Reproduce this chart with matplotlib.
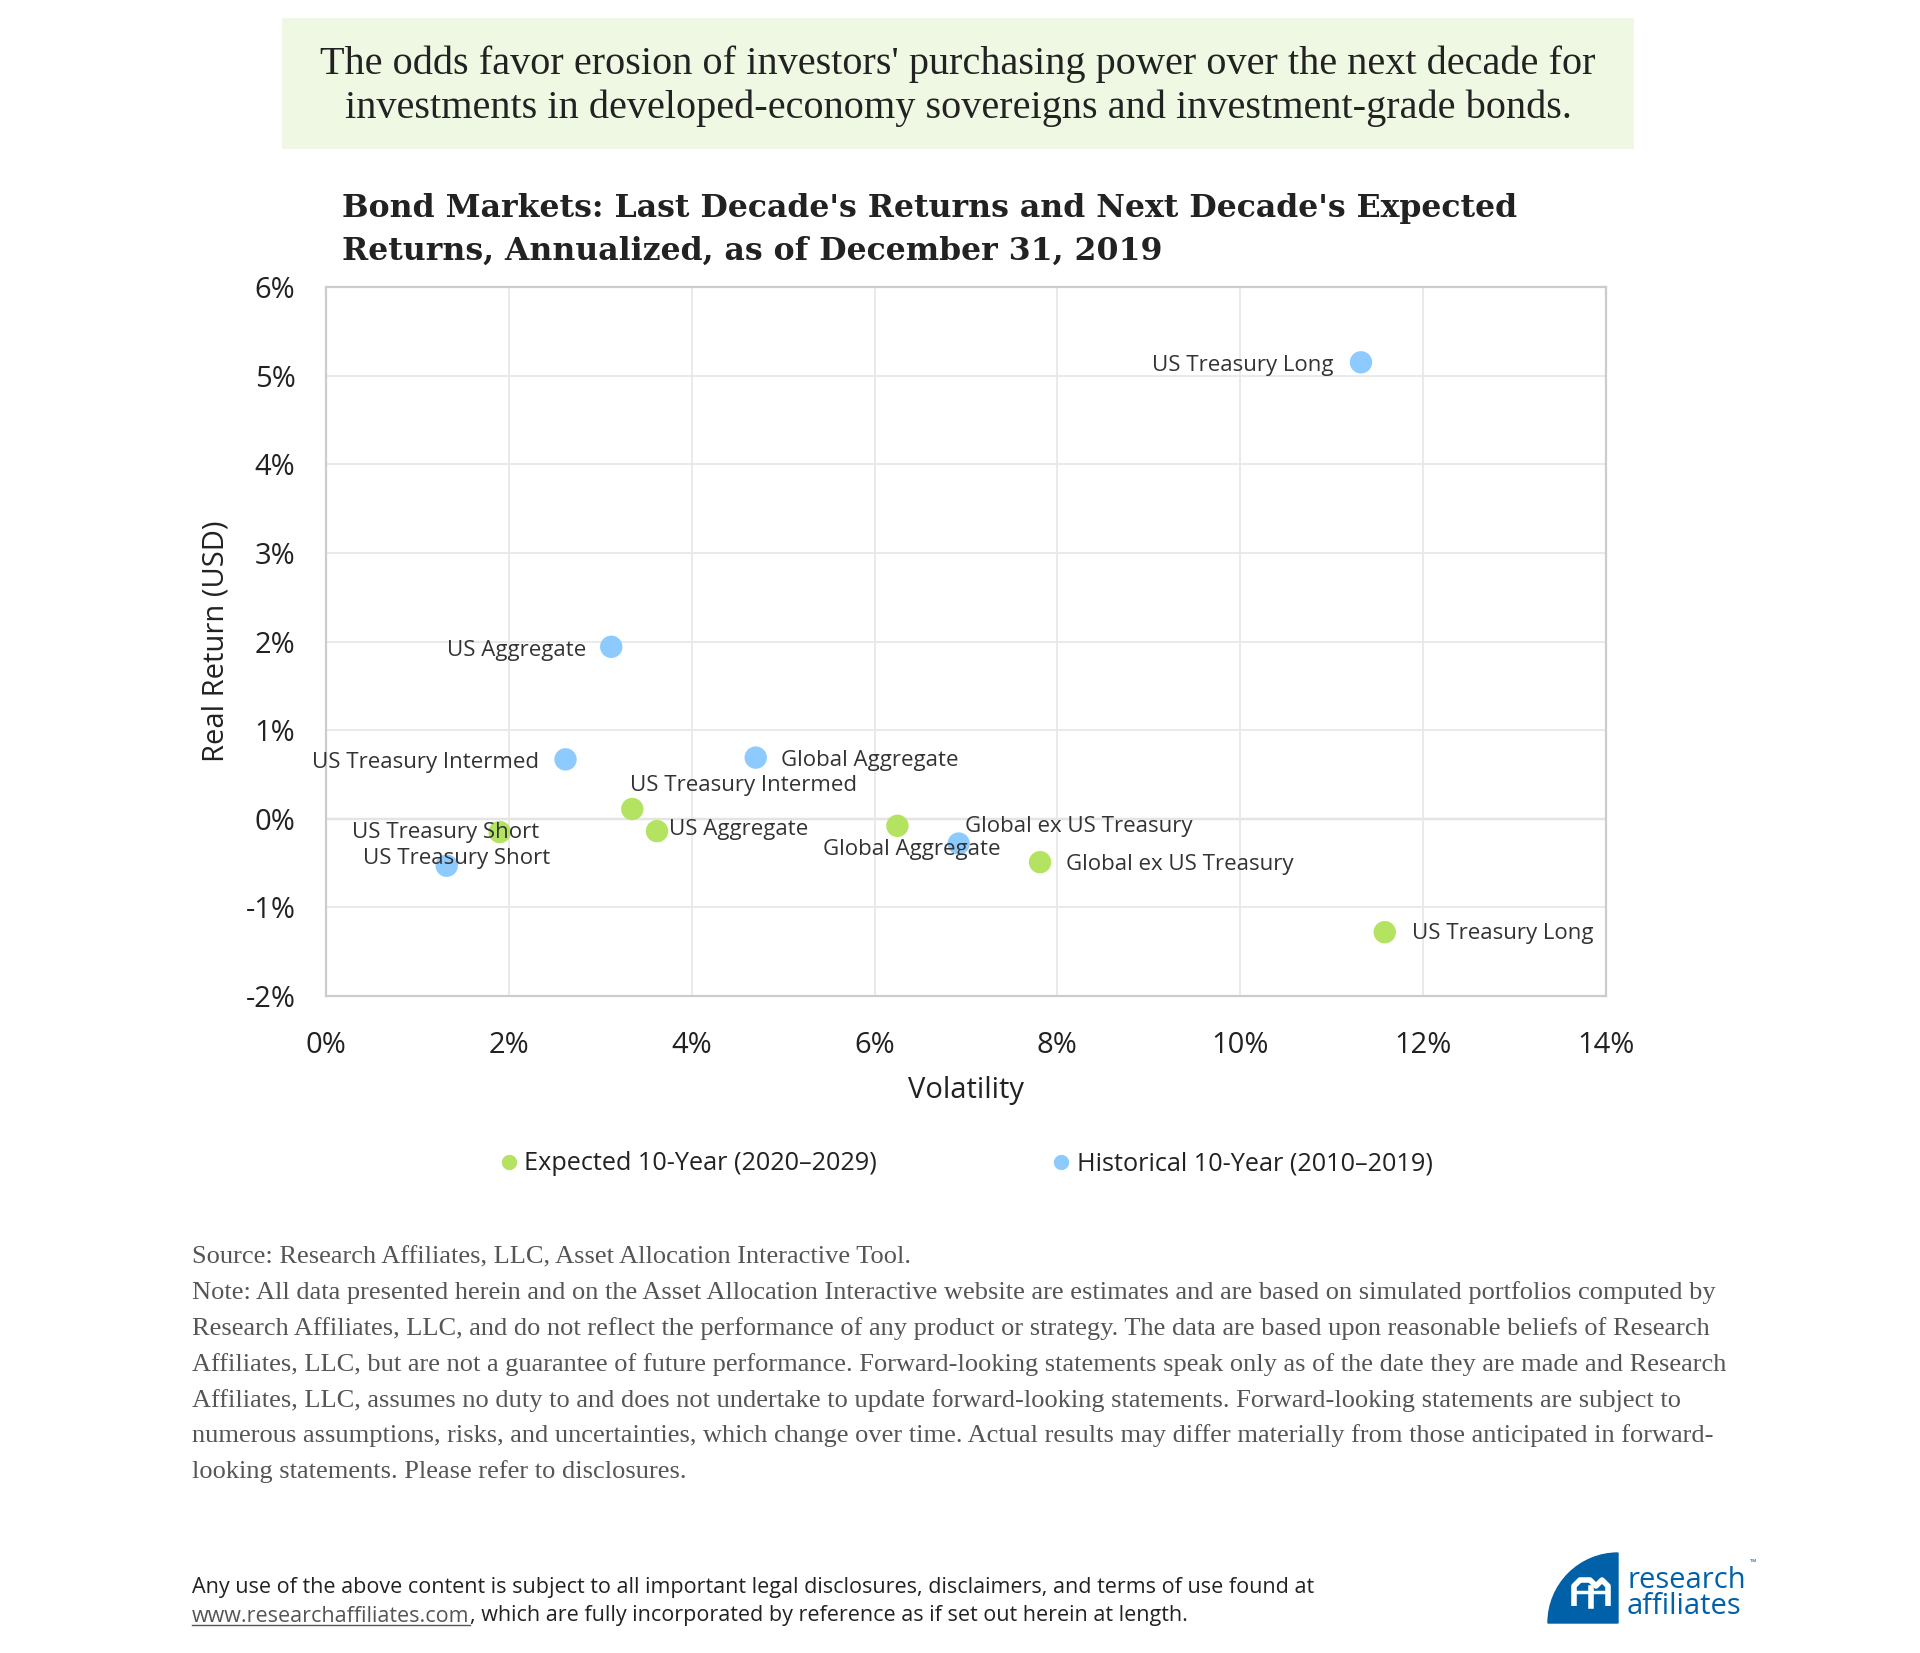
import matplotlib
matplotlib.use("Agg")
import matplotlib.pyplot as plt
from matplotlib.patches import Rectangle, Wedge
from matplotlib.lines import Line2D
from matplotlib.ticker import FuncFormatter, MultipleLocator

# values (volatility %, real return %)
names = ["US Treasury Short", "US Treasury Intermed", "US Treasury Long",
         "US Aggregate", "Global Aggregate", "Global ex US Treasury"]
hist_vol = [1.32, 2.62, 11.32, 3.12, 4.70, 6.92]
hist_ret = [-0.53, 0.67, 5.15, 1.94, 0.69, -0.28]
exp_vol = [1.90, 3.35, 11.58, 3.62, 6.25, 7.81]
exp_ret = [-0.15, 0.11, -1.28, -0.14, -0.08, -0.49]

hist_label = "Historical 10-Year (2010\u20132019)"
exp_label = "Expected 10-Year (2020\u20132029)"

# label placement: (dx pt, dy pt, ha)
hist_offsets = {
    "US Treasury Short": (7, 5, "center"),
    "US Treasury Intermed": (-19, -2, "right"),
    "US Treasury Long": (-20, -2, "right"),
    "US Aggregate": (-18, -2.5, "right"),
    "Global Aggregate": (18.5, -2, "left"),
    "Global ex US Treasury": (4.5, 12.5, "left"),
}
exp_offsets = {
    "US Treasury Short": (-39, 0, "center"),
    "US Treasury Intermed": (-1.8, 16.8, "left"),
    "US Treasury Long": (19.5, -1, "left"),
    "US Aggregate": (9, 1, "left"),
    "Global Aggregate": (10.6, -16.8, "center"),
    "Global ex US Treasury": (18.5, -2, "left"),
}

BLUE = "#8DCBFE"
GREEN = "#B3E360"
SANS = ["Open Sans", "DejaVu Sans"]
SERIF = ["Liberation Serif", "DejaVu Serif"]
W, H = 1920, 1653


def fx(px):
    return px / W


def fy(py):
    return 1 - py / H


fig = plt.figure(figsize=(19.2, 16.53), dpi=100)
fig.patch.set_facecolor("white")

# headline box
fig.patches.append(Rectangle((fx(282), fy(149)), fx(1634) - fx(282), fy(18) - fy(149),
                             transform=fig.transFigure, facecolor="#EEF8E3",
                             edgecolor="none", zorder=0))
headline = ["The odds favor erosion of investors' purchasing power over the next decade for",
            "investments in developed-economy sovereigns and investment-grade bonds."]
for i, line in enumerate(headline):
    fig.text(fx(958), fy(64 + i * 44), line, ha="center", va="center",
             fontsize=29, family=SERIF, color="#222222")

title = ["Bond Markets: Last Decade's Returns and Next Decade's Expected",
         "Returns, Annualized, as of December 31, 2019"]
for i, line in enumerate(title):
    fig.text(fx(342), fy(209 + i * 42), line, ha="left", va="center",
             fontsize=22.7, family=["DejaVu Serif"], weight="bold", color="#222222")

ax = fig.add_axes([fx(326), fy(996), fx(1606) - fx(326), fy(287) - fy(996)])
ax.set_xlim(0, 14)
ax.set_ylim(-2, 6)
ax.xaxis.set_major_locator(MultipleLocator(2))
ax.yaxis.set_major_locator(MultipleLocator(1))
pct = FuncFormatter(lambda v, p: f"{v:.0f}%")
ax.xaxis.set_major_formatter(pct)
ax.yaxis.set_major_formatter(pct)
ax.grid(True, color="#E8E8E8", lw=1.3, zorder=0)
ax.axhline(0, color="#C8C8C8", lw=1.6, zorder=1)
for s in ax.spines.values():
    s.set_color("#CCCCCC")
    s.set_linewidth(1.6)
ax.tick_params(length=0, labelsize=21, colors="#222222")
ax.tick_params(axis="x", pad=25)
ax.tick_params(axis="y", pad=22)
for lab in ax.get_xticklabels() + ax.get_yticklabels():
    lab.set_family(SANS)

ax.scatter(exp_vol, exp_ret, s=260, color=GREEN, edgecolors="none", zorder=3)
ax.scatter(hist_vol, hist_ret, s=260, color=BLUE, edgecolors="none", zorder=3)

for vols, rets, offs in [(hist_vol, hist_ret, hist_offsets), (exp_vol, exp_ret, exp_offsets)]:
    for n, v, r in zip(names, vols, rets):
        dx, dy, ha = offs[n]
        ax.annotate(n, (v, r), xytext=(dx, dy), textcoords="offset points",
                    ha=ha, va="center", fontsize=16, family=SANS,
                    color="#333333", zorder=5)

ax.set_xlabel("Volatility", fontsize=21, family=SANS, color="#222222", labelpad=12)
ax.set_ylabel("Real Return (USD)", fontsize=21, family=SANS, color="#222222", labelpad=11)

handles = [Line2D([], [], ls="none", marker="o", ms=10, color=GREEN, label=exp_label),
           Line2D([], [], ls="none", marker="o", ms=10, color=BLUE, label=hist_label)]
fig.legend(handles=handles, loc="center", bbox_to_anchor=(fx(967), fy(1164)), ncol=2,
           frameon=False, prop={"family": SANS, "size": 18.2}, handlelength=0.6,
           handletextpad=0.3, columnspacing=7.0, labelcolor="#222222")

notes = [
    "Source: Research Affiliates, LLC, Asset Allocation Interactive Tool.",
    "Note: All data presented herein and on the Asset Allocation Interactive website are estimates and are based on simulated portfolios computed by",
    "Research Affiliates, LLC, and do not reflect the performance of any product or strategy. The data are based upon reasonable beliefs of Research",
    "Affiliates, LLC, but are not a guarantee of future performance. Forward-looking statements speak only as of the date they are made and Research",
    "Affiliates, LLC, assumes no duty to and does not undertake to update forward-looking statements. Forward-looking statements are subject to",
    "numerous assumptions, risks, and uncertainties, which change over time. Actual results may differ materially from those anticipated in forward-",
    "looking statements. Please refer to disclosures.",
]
for i, line in enumerate(notes):
    fig.text(fx(192), fy(1257 + i * 35.8), line, ha="left", va="center",
             fontsize=19, family=SERIF, color="#555555")

fig.text(fx(192), fy(1588), "Any use of the above content is subject to all important legal disclosures, "
         "disclaimers, and terms of use found at", ha="left", va="center",
         fontsize=15.5, family=SANS, color="#222222")
url = fig.text(fx(192), fy(1616), "www.researchaffiliates.com", ha="left", va="center",
               fontsize=15.5, family=SANS, color="#555555")
rest = fig.text(0, 0, ", which are fully incorporated by reference as if set out herein at length.",
                fontsize=15.5, family=SANS, color="#222222", ha="left", va="center")
fig.canvas.draw()
bb = url.get_window_extent().transformed(fig.transFigure.inverted())
rest.set_position((bb.x1, fy(1616)))
fig.lines.append(Line2D([bb.x0, bb.x1], [bb.y0 + 0.001, bb.y0 + 0.001],
                        transform=fig.transFigure, color="#555555", lw=1))

# logo
LOGO = "#0061A8"
lax = fig.add_axes([fx(1540), fy(1630), fx(1790) - fx(1540), fy(1545) - fy(1630)])
lax.set_xlim(1540, 1790)
lax.set_ylim(1630, 1545)
lax.set_aspect("equal")
lax.axis("off")
lax.add_patch(Wedge((1618, 1623), 70, 180, 270, color=LOGO))
lax.plot([1574, 1574, 1580, 1590, 1596, 1602, 1608, 1608],
         [1606, 1586, 1580, 1580, 1586, 1580, 1586, 1606], color="white", lw=4,
         solid_capstyle="butt")
lax.plot([1591, 1591], [1588, 1606], color="white", lw=4)
lax.plot([1574, 1608], [1592, 1592], color="white", lw=2.5)
lax.text(1627, 1581, "research", fontsize=21, family=SANS, color=LOGO, va="center", ha="left")
lax.text(1627, 1607, "affiliates", fontsize=21, family=SANS, color=LOGO, va="center", ha="left")
lax.text(1750, 1563, "\u2122", fontsize=6, family=SANS, color=LOGO, va="center", ha="left")

fig.savefig("out.png", dpi=100)
